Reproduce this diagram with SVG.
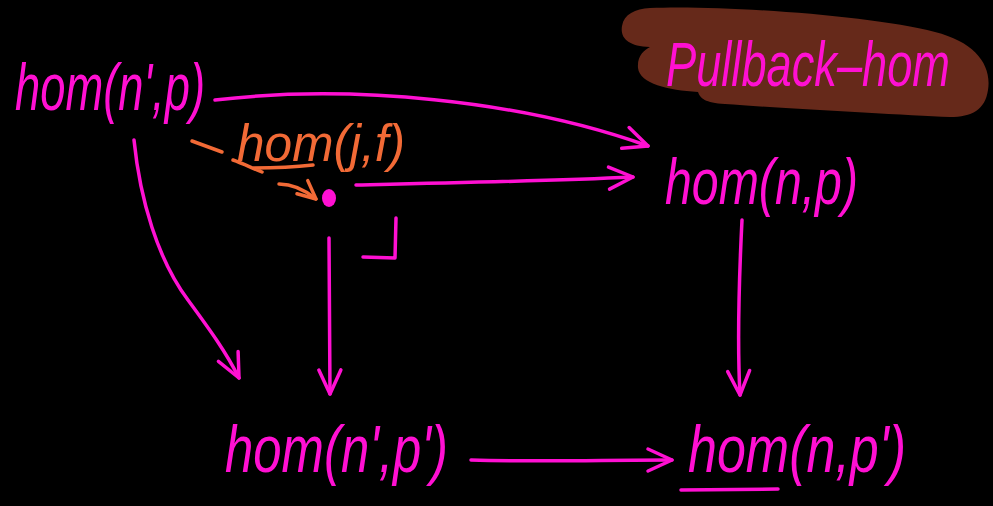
<svg xmlns="http://www.w3.org/2000/svg" width="993" height="506" viewBox="0 0 993 506">
<style>
.bg{fill:#000}
.lbl{font-family:"Liberation Sans","DejaVu Sans",sans-serif;font-style:italic;fill:#ff10d2}
.org{fill:#f26a36}
.edge{fill:none;stroke:#ff10d2;stroke-width:3.5;stroke-linecap:round;stroke-linejoin:round}
.oedge{fill:none;stroke:#f26a36;stroke-width:3.5;stroke-linecap:round;stroke-linejoin:round}
</style>
<defs>
<marker id="ah" viewBox="0 0 30 30" refX="27" refY="15" markerWidth="30" markerHeight="30" markerUnits="userSpaceOnUse" orient="auto">
<path d="M3,4 L27,15 L3,26" fill="none" stroke="#ff10d2" stroke-width="3.5" stroke-linecap="round" stroke-linejoin="round"/>
</marker>
<marker id="oah" viewBox="0 0 24 24" refX="21" refY="12" markerWidth="24" markerHeight="24" markerUnits="userSpaceOnUse" orient="auto">
<path d="M3,3 L21,12 L3,20" fill="none" stroke="#f26a36" stroke-width="3.5" stroke-linecap="round" stroke-linejoin="round"/>
</marker>
</defs>
<rect class="bg" x="0" y="0" width="993" height="506"/>

<g id="title">
<path d="M650,8 C720,5 870,15 935,32 C975,42 992,65 988,90 C985,110 972,117 950,117 C900,115 780,108 725,104 C705,103 700,98 698,92 C668,90 640,84 638,68 C637,56 644,50 650,47 C628,46 620,38 622,26 C624,14 635,9 650,8 Z" fill="#66291a"/>
<text class="lbl" transform="translate(666,86) scale(1,1.35)" x="0" y="0" font-size="46" textLength="284" lengthAdjust="spacingAndGlyphs">Pullback–hom</text>
</g>

<g id="n-hom-n1-p">
<text class="lbl" x="15" y="110" font-size="66" textLength="190" lengthAdjust="spacingAndGlyphs">hom(n',p)</text>
</g>

<g id="n-hom-j-f">
<text class="lbl org" x="237" y="161" font-size="52" textLength="168" lengthAdjust="spacingAndGlyphs">hom(j,f)</text>
</g>

<g id="n-pullback-point">
<ellipse cx="329" cy="198" rx="7" ry="9" fill="#ff10d2"/>
</g>

<g id="n-hom-n-p">
<text class="lbl" x="665" y="204" font-size="64" textLength="193" lengthAdjust="spacingAndGlyphs">hom(n,p)</text>
</g>

<g id="n-hom-n1-p1">
<text class="lbl" x="225" y="472" font-size="66" textLength="223" lengthAdjust="spacingAndGlyphs">hom(n',p')</text>
</g>

<g id="n-hom-n-p1">
<text class="lbl" x="688" y="472" font-size="66" textLength="218" lengthAdjust="spacingAndGlyphs">hom(n,p')</text>
<path class="edge" d="M681,490 L778,489"/>
</g>

<g id="connectors">
<path class="edge" d="M215,100 C350,84 520,100 648,146" marker-end="url(#ah)"/>
<path class="edge" d="M356,185 C450,183 550,181 633,177" marker-end="url(#ah)"/>
<path class="edge" d="M134,140 C140,200 158,260 188,300 C210,330 226,352 239,378" marker-end="url(#ah)"/>
<path class="edge" d="M329,238 L330,394" marker-end="url(#ah)"/>
<path class="edge" d="M742,220 C739,280 737,340 740,395" marker-end="url(#ah)"/>
<path class="edge" d="M471,460 C540,462 600,460 672,460" marker-end="url(#ah)"/>
<path class="edge" d="M363,257 L395,258 L396,218"/>
<path class="oedge" d="M192,141 L222,152"/>
<path class="oedge" d="M233,160 C242,163 252,168 262,172 M252,168 C275,168 295,167 313,165"/>
<path class="oedge" d="M279,184 C292,184 305,190 316,199" marker-end="url(#oah)"/>
</g>
</svg>
